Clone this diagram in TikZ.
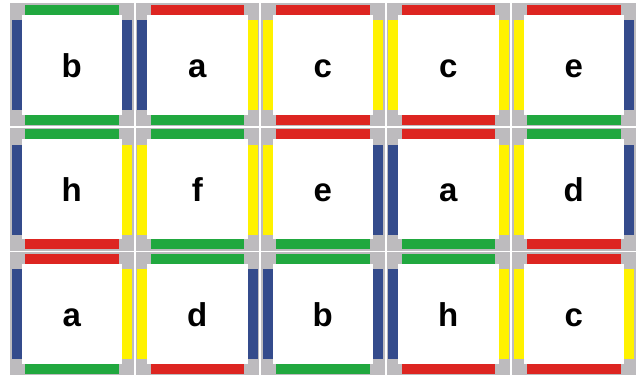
\documentclass[tikz,border=0pt]{standalone}
\usepackage{fontspec}
\setmainfont{Liberation Sans}
\usetikzlibrary{calc}
\definecolor{wblue}{RGB}{52,75,140}
\definecolor{wred}{RGB}{221,37,33}
\definecolor{wgreen}{RGB}{33,168,63}
\definecolor{wyellow}{RGB}{255,242,0}
\definecolor{wgray}{RGB}{189,187,190}
\tikzset{
  tilebox/.style={rectangle, fill=wgray, minimum width=123.5pt, minimum height=123pt, inner sep=0pt, outer sep=0pt},
  tilelabel/.style={font=\fontsize{33}{33}\selectfont\bfseries, anchor=base, inner sep=0pt, text=black},
}
% #1 name, #2 col, #3 row, #4 label, #5 top, #6 right, #7 bottom, #8 left
\newcommand\WangTile[8]{%
  \node[tilebox] (#1) at ({10+125.5*#2+61.75},{3+124.5*#3+61.5}) {};
  \fill[white] ($(#1.north west)+(11.5,11.5)$) rectangle ($(#1.south east)+(-11.5,-11.5)$);
  \fill[#5] ($(#1.north west)+(15,1.5)$) rectangle ($(#1.north east)+(-15,11.5)$);
  \fill[#7] ($(#1.south west)+(15,-1.5)$) rectangle ($(#1.south east)+(-15,-11.5)$);
  \fill[#8] ($(#1.north west)+(1.5,17)$) rectangle ($(#1.south west)+(11.5,-16)$);
  \fill[#6] ($(#1.north east)+(-1.5,17)$) rectangle ($(#1.south east)+(-11.5,-16)$);
  \node[tilelabel] (#1l) at ($(#1.center)+(0,12.5)$) {#4};
}
\begin{document}
\begin{tikzpicture}[x=1pt,y=-1pt]
\useasboundingbox (0,0) rectangle (642,376);
\fill[white] (0,0) rectangle (642,376);
% row 1
\WangTile{t11}{0}{0}{b}{wgreen}{wblue}{wgreen}{wblue}
\WangTile{t12}{1}{0}{a}{wred}{wyellow}{wgreen}{wblue}
\WangTile{t13}{2}{0}{c}{wred}{wyellow}{wred}{wyellow}
\WangTile{t14}{3}{0}{c}{wred}{wyellow}{wred}{wyellow}
\WangTile{t15}{4}{0}{e}{wred}{wblue}{wgreen}{wyellow}
% row 2
\WangTile{t21}{0}{1}{h}{wgreen}{wyellow}{wred}{wblue}
\WangTile{t22}{1}{1}{f}{wgreen}{wyellow}{wgreen}{wyellow}
\WangTile{t23}{2}{1}{e}{wred}{wblue}{wgreen}{wyellow}
\WangTile{t24}{3}{1}{a}{wred}{wyellow}{wgreen}{wblue}
\WangTile{t25}{4}{1}{d}{wgreen}{wblue}{wred}{wyellow}
% row 3
\WangTile{t31}{0}{2}{a}{wred}{wyellow}{wgreen}{wblue}
\WangTile{t32}{1}{2}{d}{wgreen}{wblue}{wred}{wyellow}
\WangTile{t33}{2}{2}{b}{wgreen}{wblue}{wgreen}{wblue}
\WangTile{t34}{3}{2}{h}{wgreen}{wyellow}{wred}{wblue}
\WangTile{t35}{4}{2}{c}{wred}{wyellow}{wred}{wyellow}
\end{tikzpicture}
\end{document}
